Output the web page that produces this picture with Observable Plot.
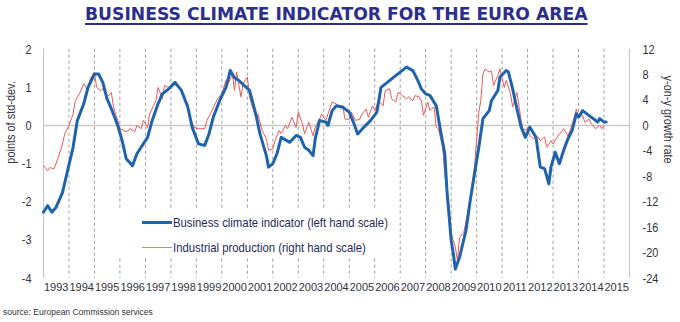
<!DOCTYPE html>
<html><head><meta charset="utf-8">
<script src="https://cdn.jsdelivr.net/npm/d3@7"></script>
<script src="https://cdn.jsdelivr.net/npm/@observablehq/plot@0.6"></script>
<style>
body{margin:0;background:#fff;width:680px;height:322px;overflow:hidden;position:relative;font-family:"Liberation Sans",Arial,sans-serif;}
#title{position:absolute;left:85px;top:4px;font-family:"DejaVu Sans",Verdana,sans-serif;font-weight:bold;color:#2B2E8C;text-decoration:underline;text-decoration-thickness:2px;text-underline-offset:3px;white-space:nowrap;font-size:17px;line-height:20px;}
#chart{position:absolute;left:0;top:36px;}
#legend{position:absolute;left:112px;top:208px;width:282px;height:50px;background:#fff;font-size:13.5px;color:#1f2a5c;}
.row{position:absolute;left:30px;height:20px;display:flex;align-items:center;white-space:nowrap;}
.sw{width:30px;margin-right:1px;}
.row span{display:inline-block;transform:scaleX(0.84);transform-origin:0 50%;}
#source{position:absolute;left:3px;top:305px;font-family:"Liberation Sans",Arial,sans-serif;font-size:8.5px;color:#333;line-height:14px;}
</style></head>
<body>
<div id="title"></div>
<div id="chart"></div>
<div id="legend"></div>
<div id="source">source: European Commission services</div>
<script>
// ---------------- data ----------------
const titleText = "BUSINESS CLIMATE INDICATOR FOR THE EURO AREA";
const leftAxisTitle = "points of std-dev.";
const rightAxisTitle = "y-on-y growth rate";
const seriesNames = ["Business climate indicator (left hand scale)", "Industrial production (right hand scale)"];
const years = [1993,1994,1995,1996,1997,1998,1999,2000,2001,2002,2003,2004,2005,2006,2007,2008,2009,2010,2011,2012,2013,2014,2015];
const leftTicks = [-4,-3,-2,-1,0,1,2];
const rightTicks = [-24,-20,-16,-12,-8,-4,0,4,8,12];

const biDates = ["1993-01","1993-03","1993-05","1993-07","1993-10","1993-12","1994-03","1994-05","1994-08","1994-10",
"1995-01","1995-03","1995-05","1995-07","1995-09","1995-12","1996-02","1996-04","1996-07","1996-09","1996-11",
"1997-02","1997-04","1997-07","1997-09","1997-12","1998-03","1998-06","1998-09","1998-11","1999-02","1999-05",
"1999-07","1999-09","1999-12","2000-03","2000-05","2000-07","2000-09","2001-02","2001-05","2001-07","2001-10",
"2001-11","2002-01","2002-03","2002-05","2002-09","2002-12","2003-02","2003-04","2003-06","2003-08","2003-09",
"2003-11","2004-02","2004-03","2004-05","2004-07","2004-10","2005-01","2005-03","2005-05","2005-08","2005-11",
"2006-02","2006-04","2006-07","2006-10","2007-01","2007-04","2007-07","2007-09","2007-11","2008-01","2008-03",
"2008-06","2008-08","2008-10","2008-11","2009-01","2009-02","2009-03","2009-05","2009-08","2009-10","2009-12",
"2010-02","2010-04","2010-07","2010-08","2010-11","2010-12","2011-03","2011-04","2011-06","2011-08","2011-10",
"2011-12","2012-02","2012-05","2012-07","2012-09","2012-11","2012-12","2013-02","2013-04","2013-06","2013-08",
"2013-10","2013-12","2014-01","2014-03","2014-06","2014-08","2014-10","2014-11","2015-01","2015-02"];
const biValues = [-2.27,-2.10,-2.27,-2.14,-1.75,-1.27,-0.57,0.13,0.57,1.00,
1.35,1.35,1.13,0.70,0.44,0.00,-0.39,-0.87,-1.05,-0.74,-0.57,
-0.31,0.09,0.57,0.83,0.96,1.13,0.92,0.48,-0.04,-0.48,-0.52,
-0.22,0.22,0.65,1.00,1.44,1.25,1.18,0.92,0.31,-0.22,-0.79,
-1.09,-1.00,-0.74,-0.31,-0.44,-0.26,-0.31,-0.57,-0.65,-0.79,-0.35,
0.13,0.09,0.00,0.39,0.52,0.48,0.35,0.09,-0.22,-0.04,0.13,
0.35,1.00,1.13,1.27,1.40,1.53,1.44,1.22,0.96,0.83,0.79,
0.52,-0.13,-0.74,-1.70,-3.01,-3.36,-3.76,-3.45,-2.75,-1.96,-1.27,
-0.57,0.18,0.39,0.65,0.92,1.27,1.44,1.40,0.96,0.44,-0.04,
-0.31,-0.04,-0.31,-1.09,-1.13,-1.53,-1.09,-0.70,-1.00,-0.65,-0.35,
-0.13,0.31,0.22,0.39,0.26,0.18,0.09,0.18,0.09,0.09];

const ipDates = ["1993-01","1993-03","1993-04","1993-06","1993-08","1993-10","1993-11","1994-01","1994-03","1994-04",
"1994-06","1994-08","1994-10","1994-11","1995-01","1995-02","1995-04","1995-05","1995-07","1995-09","1995-10",
"1995-12","1996-01","1996-03","1996-04","1996-06","1996-08","1996-09","1996-11","1996-12","1997-02","1997-03",
"1997-06","1997-07","1997-09","1997-10","1998-01","1998-02","1998-05","1998-07","1998-09","1998-10","1998-12",
"1999-02","1999-05","1999-06","1999-08","1999-11","2000-01","2000-03","2000-04","2000-06","2000-07","2000-08",
"2000-10","2000-11","2001-01","2001-02","2001-03","2001-05","2001-06","2001-08","2001-10","2001-11","2002-01",
"2002-02","2002-04","2002-05","2002-07","2002-08","2002-10","2002-12","2003-01","2003-03","2003-04","2003-06",
"2003-08","2003-09","2003-11","2003-12","2004-02","2004-03","2004-05","2004-07","2004-08","2004-10","2004-11",
"2005-01","2005-02","2005-04","2005-06","2005-07","2005-09","2005-10","2005-12","2006-01","2006-03","2006-05",
"2006-06","2006-08","2006-09","2006-11","2006-12","2007-02","2007-04","2007-05","2007-07","2007-08","2007-10",
"2007-11","2007-12","2008-02","2008-03","2008-05","2008-06","2008-07","2008-09","2008-10","2008-12","2009-01",
"2009-03","2009-04","2009-05","2009-07","2009-09","2009-10","2009-12","2010-02","2010-03","2010-04","2010-05",
"2010-07","2010-08","2010-09","2010-11","2010-12","2011-02","2011-03","2011-05","2011-06","2011-08","2011-10",
"2011-11","2012-01","2012-02","2012-04","2012-06","2012-07","2012-09","2012-10","2012-12","2013-01","2013-03",
"2013-05","2013-06","2013-08","2013-09","2013-11","2013-12","2014-01","2014-03","2014-04","2014-06","2014-07",
"2014-09","2014-11","2014-12","2015-01"];
const ipValues = [-6.3,-7.1,-6.6,-6.8,-5.0,-2.9,-1.3,0.0,1.8,3.9,
5.0,6.6,5.5,7.3,8.4,6.0,5.5,5.8,4.5,5.2,2.9,
0.8,-0.5,-0.8,-1.0,-0.5,-1.0,0.0,-0.5,0.8,-0.3,1.8,
3.9,6.0,4.2,6.3,5.8,6.6,6.0,4.7,3.4,1.3,-0.3,
-0.5,-0.5,0.8,2.1,4.2,5.0,7.1,6.6,8.1,5.5,8.4,
4.5,6.6,7.6,4.5,3.4,1.3,1.8,-0.8,-2.1,-3.9,-3.7,
-2.4,-0.8,-1.3,0.0,-0.5,1.3,-0.3,2.1,0.3,-1.3,0.5,
-1.6,-0.3,1.0,1.8,0.8,1.8,3.7,3.4,2.9,3.1,1.0,
1.0,2.1,0.8,1.0,1.8,2.6,1.3,3.1,2.4,3.9,3.1,
5.5,5.8,4.2,3.7,5.2,4.7,4.2,4.5,3.9,4.7,4.5,
3.9,1.6,3.7,2.4,2.9,-0.3,-0.5,-3.4,-7.6,-12.8,-17.0,
-19.1,-21.2,-17.6,-16.8,-13.4,-11.3,-6.6,2.1,3.9,8.1,8.9,
8.4,8.6,6.3,7.9,8.9,6.0,7.1,5.0,2.9,5.2,0.8,
-0.8,-0.5,-1.6,-2.1,-1.8,-2.4,-1.8,-3.4,-2.4,-2.9,-1.8,
-1.0,-0.5,-1.6,-0.8,1.3,2.6,1.3,1.6,0.5,1.0,0.3,
-0.5,0.0,-0.5,0.0];

// ---------------- build ----------------
const RATIO = 6; // right-scale units per left-scale unit (12 / 2)
const parse = d3.utcParse("%Y-%m");
const bi = biDates.map((d, i) => ({date: parse(d), value: biValues[i]}));
const ip = ipDates.map((d, i) => ({date: parse(d), value: ipValues[i]}));
const jan = y => new Date(Date.UTC(y, 0, 1));
const mid = y => new Date(Date.UTC(y, 6, 2));
const xDomain = [jan(years[0]), jan(years[years.length - 1] + 1)];
const fmt = d => String(Math.round(d));

const font = '"Liberation Sans",Arial,sans-serif';
const chart = Plot.plot({
  width: 680, height: 268,
  marginTop: 12.7, marginBottom: 26.3, marginLeft: 43, marginRight: 51,
  style: {fontFamily: font, fontSize: "13.5px", color: "#333340", background: "transparent", overflow: "visible"},
  x: {type: "utc", domain: xDomain},
  y: {domain: [leftTicks[0], leftTicks[leftTicks.length - 1]]},
  marks: [
    Plot.ruleX(years.slice(1).map(jan), {stroke: "#9a9a9a", strokeDasharray: "3,3", strokeWidth: 1}),
    Plot.ruleX(xDomain, {stroke: "#c8c8c8", strokeWidth: 1.2}),
    Plot.ruleY([0], {stroke: "#c8c8c8", strokeWidth: 1.5}),
    Plot.axisX(years.map(mid), {tickFormat: "%Y", tickSize: 0, tickPadding: 5, label: null, fontSize: 11, className: "xax"}),
    Plot.axisY(leftTicks, {anchor: "left", tickSize: 0, tickPadding: 12, tickFormat: fmt, label: null}),
    Plot.axisY(rightTicks.map(v => v / RATIO), {anchor: "right", tickSize: 0, tickPadding: 13, tickFormat: d => fmt(d * RATIO), label: null}),
    Plot.lineY(ip, {x: "date", y: d => d.value / RATIO, stroke: "#ef5858", strokeWidth: 1}),
    Plot.lineY(bi, {x: "date", y: "value", stroke: "#1f63ad", strokeWidth: 3}),
    Plot.text([leftAxisTitle], {frameAnchor: "left", rotate: -90, dx: -33, fill: "#333340"}),
    Plot.text([rightAxisTitle], {frameAnchor: "right", rotate: 90, dx: 39, fill: "#333340"})
  ]
});
document.getElementById("chart").append(chart);

// narrow (Arial Narrow-like) glyphs: compress the larger SVG texts horizontally
d3.select(chart).selectAll("text").each(function () {
  const fs = parseFloat(getComputedStyle(this).fontSize);
  const len = this.getComputedTextLength();
  if (len > 0 && fs > 12) {
    this.setAttribute("textLength", (len * 0.81).toFixed(2));
    this.setAttribute("lengthAdjust", "spacingAndGlyphs");
  }
});

// legend
const legend = document.getElementById("legend");
const legendStyles = [{color: "#1f63ad", w: 3, top: 4}, {color: "#f07a7a", w: 1, top: 29}];
seriesNames.forEach((name, i) => {
  const row = document.createElement("div");
  row.className = "row";
  row.style.top = legendStyles[i].top + "px";
  const sw = document.createElement("div");
  sw.className = "sw";
  sw.style.borderTop = legendStyles[i].w + "px solid " + legendStyles[i].color;
  const tx = document.createElement("span");
  tx.textContent = name;
  row.append(sw, tx);
  legend.append(row);
});

// fit title width to the reference (about 503px)
const t = document.getElementById("title");
t.textContent = titleText;
const w = t.getBoundingClientRect().width;
t.style.fontSize = (17 * 503 / w).toFixed(2) + "px";
</script>
</body></html>
